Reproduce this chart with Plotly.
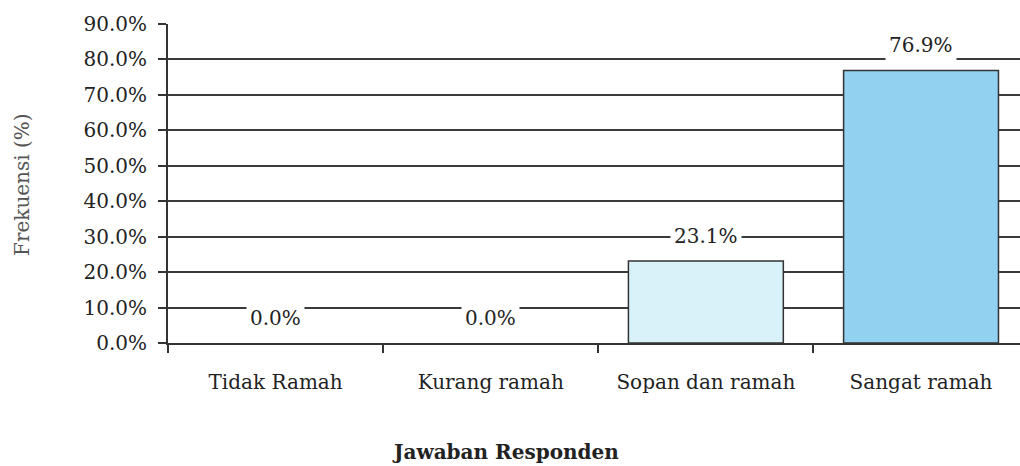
import plotly.graph_objects as go

categories = ["Tidak Ramah", "Kurang ramah", "Sopan dan ramah", "Sangat ramah"]
values = [0.0, 0.0, 23.1, 76.9]
labels = ["0.0%", "0.0%", "23.1%", "76.9%"]
bar_colors = ["#dff3f9", "#dff3f9", "#d9f2f9", "#93d1f1"]
y_ticks = [0, 10, 20, 30, 40, 50, 60, 70, 80, 90]
y_tick_text = ["0.0%", "10.0%", "20.0%", "30.0%", "40.0%", "50.0%", "60.0%", "70.0%", "80.0%", "90.0%"]

FONT = "DejaVu Serif, Liberation Serif, serif"
FS = 20

fig = go.Figure()
fig.add_trace(go.Bar(
    x=categories, y=values,
    marker=dict(color=bar_colors,
                line=dict(color="#333333", width=[1.5 if v > 0 else 0 for v in values])),
    width=0.72,
    hoverinfo="skip",
))

for c, v, t in zip(categories, values, labels):
    fig.add_annotation(
        x=c, y=v, text=t, showarrow=False, yanchor="middle", yshift=25,
        bgcolor="white", borderpad=3,
        font=dict(family=FONT, size=FS, color="#222222"),
    )

fig.update_layout(
    width=1020, height=466,
    margin=dict(l=168, r=0, t=24, b=123, autoexpand=False),
    paper_bgcolor="white", plot_bgcolor="white",
    showlegend=False,
    font=dict(family=FONT, size=FS, color="#222222"),
)

fig.update_xaxes(
    type="category",
    range=[-0.5, 3.46],
    tickson="boundaries",
    ticks="outside", ticklen=8, tickwidth=1.5, tickcolor="#333333",
    showline=True, linecolor="#333333", linewidth=2,
    showgrid=False,
    automargin=False,
    ticklabelstandoff=20,
    tickfont=dict(family=FONT, size=FS, color="#222222"),
)
fig.update_yaxes(
    range=[0, 90],
    tickvals=y_ticks, ticktext=y_tick_text,
    ticks="outside", ticklen=8, tickwidth=1.5, tickcolor="#333333",
    showline=True, linecolor="#333333", linewidth=2,
    showgrid=True, gridcolor="#3a3a3a", gridwidth=1.6,
    zeroline=False,
    automargin=False,
    ticklabelstandoff=7,
    tickfont=dict(family=FONT, size=FS, color="#222222"),
)

# Axis titles
fig.add_annotation(
    xref="paper", yref="paper", x=(505 - 168) / 852, y=-(452 - 343) / 319,
    text="<b>Jawaban Responden</b>", showarrow=False,
    xanchor="center", yanchor="middle",
    font=dict(family=FONT, size=FS, color="#222222"),
)
fig.add_annotation(
    xref="paper", yref="paper", x=-(168 - 22) / 852, y=(343 - 185) / 319,
    text="Frekuensi (%)", showarrow=False, textangle=-90,
    xanchor="center", yanchor="middle",
    font=dict(family=FONT, size=FS, color="#555555"),
)

fig.write_html("out.html", config={"displayModeBar": False},
               post_script="document.body.style.margin='0';")
